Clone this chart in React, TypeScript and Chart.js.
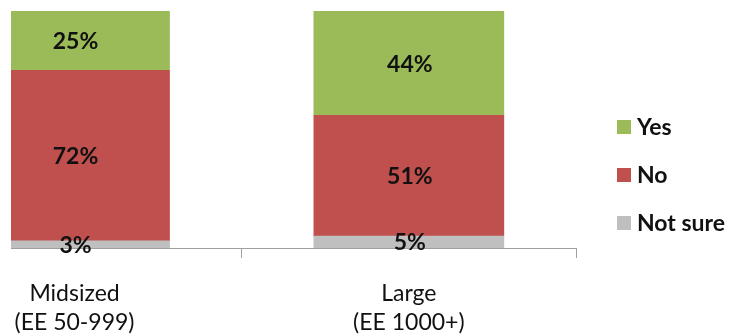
import React, { useEffect, useRef } from "react";
import { Chart, registerables } from "chart.js";

Chart.register(...registerables);

// Company size groups (x positions 0 and 1 on a linear index axis)
const categories: string[][] = [
  ["Midsized", "(EE 50-999)"],
  ["Large", "(EE 1000+)"],
];
const positions = [0, 1];

// Share of respondents per answer, in percent
const notSure = [3, 5];
const no = [72, 51];
const yes = [25, 44];

const seriesNames = ["Not sure", "No", "Yes"];
const seriesColors = ["#BFBFBF", "#C0504D", "#9BBB59"];

const FONT = "Lato, 'Open Sans', sans-serif";

// Writes each segment's value in the middle of its bar piece
const valueLabels = {
  id: "valueLabels",
  afterDatasetsDraw(chart: any) {
    const ctx = chart.ctx;
    ctx.save();
    ctx.font = `bold 23px ${FONT}`;
    ctx.fillStyle = "#111";
    ctx.textAlign = "center";
    ctx.textBaseline = "middle";
    chart.data.datasets.forEach((ds: any, di: number) => {
      const meta = chart.getDatasetMeta(di);
      meta.data.forEach((el: any, i: number) => {
        const v = ds.data[i].y;
        ctx.fillText(`${v}%`, el.x + 1, (el.y + el.base) / 2 + 1);
      });
    });
    ctx.restore();
  },
};

// Vertical legend at the right, top answer first
const sideLegend = {
  id: "sideLegend",
  afterDraw(chart: any, _args: any, opts: any) {
    const ctx = chart.ctx;
    ctx.save();
    ctx.font = `bold 23px ${FONT}`;
    ctx.textAlign = "left";
    ctx.textBaseline = "middle";
    const order = [2, 1, 0];
    order.forEach((di, row) => {
      const ds = chart.data.datasets[di];
      const cy = opts.y + row * opts.spacing;
      ctx.fillStyle = ds.backgroundColor;
      ctx.fillRect(opts.x, cy - opts.box / 2, opts.box, opts.box);
      ctx.fillStyle = "#111";
      ctx.fillText(ds.label, opts.x + opts.box + 6, cy + 1);
    });
    ctx.restore();
  },
};

export default function App() {
  const canvasRef = useRef<HTMLCanvasElement | null>(null);

  useEffect(() => {
    if (!canvasRef.current) return;
    const seriesValues = [notSure, no, yes];
    const chart = new Chart(canvasRef.current, {
      type: "bar",
      data: {
        datasets: seriesValues.map((vals, si) => ({
          label: seriesNames[si],
          data: positions.map((p, i) => ({ x: p, y: vals[i] })),
          backgroundColor: seriesColors[si],
          borderWidth: 0,
          barThickness: 190,
          clip: 0,
        })),
      },
      options: {
        animation: false,
        responsive: true,
        maintainAspectRatio: false,
        layout: { padding: { left: 11, right: 158, top: 11, bottom: 0 } },
        plugins: {
          legend: { display: false },
          tooltip: { enabled: false },
          sideLegend: { x: 617, y: 127, spacing: 48, box: 14 },
        } as any,
        scales: {
          x: {
            type: "linear",
            stacked: true,
            offset: false,
            min: -0.19,
            max: 1.5,
            afterBuildTicks: (scale: any) => {
              scale.ticks = [0, 0.5, 1, 1.5].map((value) => ({ value }));
            },
            afterFit: (scale: any) => {
              scale.height = 88;
              scale.paddingLeft = 0;
              scale.paddingRight = 0;
            },
            grid: {
              offset: false,
              drawOnChartArea: false,
              drawTicks: true,
              tickLength: 10,
              tickColor: (c: any) =>
                c.tick && c.tick.value % 1 === 0.5 ? "#A0A0A0" : "rgba(0,0,0,0)",
            },
            border: { display: true, color: "#A0A0A0", width: 1 },
            ticks: {
              autoSkip: false,
              maxRotation: 0,
              padding: 21,
              color: "#111",
              font: { family: FONT, size: 23, lineHeight: 1.26 },
              callback: (value: any) => {
                const idx = positions.indexOf(Number(value));
                return idx >= 0 ? categories[idx] : "";
              },
            },
          },
          y: {
            stacked: true,
            display: false,
            min: 0,
            max: 100,
          },
        },
      },
      plugins: [valueLabels, sideLegend],
    });
    return () => chart.destroy();
  }, []);

  return (
    <div style={{ position: "fixed", left: 0, top: 0, width: 734, height: 336, background: "#fff" }}>
      <canvas ref={canvasRef} />
    </div>
  );
}
